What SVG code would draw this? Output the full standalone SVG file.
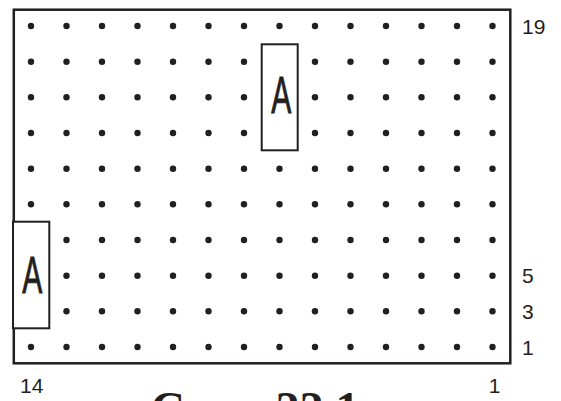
<svg xmlns="http://www.w3.org/2000/svg" xmlns:xlink="http://www.w3.org/1999/xlink" width="561" height="401" viewBox="0 0 561 401">
  <style>
    .dot { fill: #231f20; }
    .frame { fill: none; stroke: #231f20; stroke-width: 2.5; }
    .box { fill: #ffffff; stroke: #231f20; stroke-width: 2; }
    .letter { font-family: "Liberation Sans", Arial, sans-serif; font-size: 51px; fill: #231f20; stroke: #231f20; stroke-width: 0.8; text-anchor: middle; }
    .num { font-family: "Liberation Sans", Arial, sans-serif; font-size: 21px; fill: #231f20; }
    .title { font-family: "Liberation Serif", "Times New Roman", serif; font-size: 48px; font-weight: bold; fill: #231f20; }
  </style>
  <defs>
    <g id="row">
      <circle class="dot" cx="31" cy="0" r="3.2"/>
      <circle class="dot" cx="66.5" cy="0" r="3.2"/>
      <circle class="dot" cx="102" cy="0" r="3.2"/>
      <circle class="dot" cx="137.5" cy="0" r="3.2"/>
      <circle class="dot" cx="173" cy="0" r="3.2"/>
      <circle class="dot" cx="208.5" cy="0" r="3.2"/>
      <circle class="dot" cx="244" cy="0" r="3.2"/>
      <circle class="dot" cx="279.5" cy="0" r="3.2"/>
      <circle class="dot" cx="315" cy="0" r="3.2"/>
      <circle class="dot" cx="350.5" cy="0" r="3.2"/>
      <circle class="dot" cx="386" cy="0" r="3.2"/>
      <circle class="dot" cx="421.5" cy="0" r="3.2"/>
      <circle class="dot" cx="457" cy="0" r="3.2"/>
      <circle class="dot" cx="492.5" cy="0" r="3.2"/>
    </g>
  </defs>
  <rect x="0" y="0" width="561" height="401" fill="#ffffff"/>
  <g id="grid">
    <rect class="frame" x="13.8" y="9.7" width="496.5" height="353.6"/>
    <use xlink:href="#row" href="#row" y="26"/>
    <use xlink:href="#row" href="#row" y="61.7"/>
    <use xlink:href="#row" href="#row" y="97.3"/>
    <use xlink:href="#row" href="#row" y="133"/>
    <use xlink:href="#row" href="#row" y="168.7"/>
    <use xlink:href="#row" href="#row" y="204.3"/>
    <use xlink:href="#row" href="#row" y="240"/>
    <use xlink:href="#row" href="#row" y="275.7"/>
    <use xlink:href="#row" href="#row" y="311.3"/>
    <use xlink:href="#row" href="#row" y="347"/>
  </g>
  <g id="boxA1">
    <rect class="box" x="261.7" y="44.3" width="36" height="106"/>
    <text class="letter" transform="translate(281.2,113.3) scale(0.59,1)">A</text>
  </g>
  <g id="boxA2">
    <rect class="box" x="13" y="221.7" width="36.3" height="106.6"/>
    <text class="letter" transform="translate(32.3,293.3) scale(0.59,1)">A</text>
  </g>
  <g id="labels">
    <text class="num" x="522" y="34">19</text>
    <text class="num" x="522" y="283">5</text>
    <text class="num" x="522" y="319">3</text>
    <text class="num" x="522" y="355">1</text>
    <text class="num" x="20" y="393">14</text>
    <text class="num" x="494.5" y="393" text-anchor="middle">1</text>
    <text class="title" x="150.5" y="424.5">C</text>
    <text class="title" x="275.5" y="424.5">22.1</text>
  </g>
</svg>
